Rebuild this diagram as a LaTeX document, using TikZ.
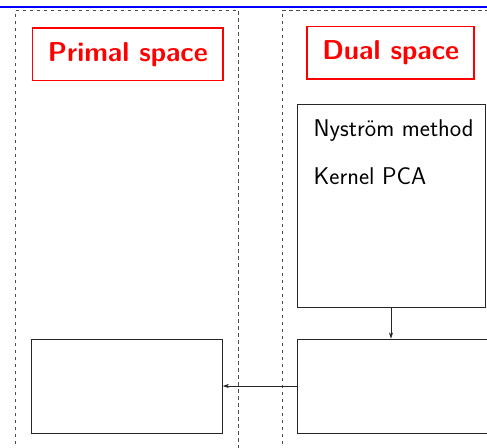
\documentclass[tikz,border=0pt]{standalone}
\usetikzlibrary{arrows.meta}
\begin{document}
\begin{tikzpicture}[x=1pt,y=-1pt,
  frame/.style={draw=black!70,dash pattern=on 3.5pt off 3.5pt,line width=0.9pt},
  title/.style={draw=red,line width=1.4pt,text=red,inner sep=0pt,
    font=\sffamily\bfseries\fontsize{27.3}{31}\selectfont},
  box/.style={draw=black!85,line width=0.9pt,inner sep=0pt},
  item/.style={anchor=base west,inner sep=0pt,font=\sffamily\fontsize{24.2}{29}\selectfont},
  conn/.style={draw=black!85,line width=0.9pt,-{Stealth[length=6pt,width=4pt,inset=1.5pt]}}]
\useasboundingbox (0,0) rectangle (487,447);
\clip (0,0) rectangle (487,447);
% top rule
\draw[blue,line width=1.8pt] (0,7.3) -- (487,7.3);
% the two column frames
\draw[frame] (15.7,500) -- (15.7,10) -- (238.3,10) -- (238.3,500);
\draw[frame] (282,500) -- (282,10) -- (500,10);
% column titles
\node[title,minimum width=190.3pt,minimum height=52.7pt] (primal) at (127.85,54.35) {Primal space};
\node[title,minimum width=167pt,minimum height=52.3pt] (dual) at (390.65,52.85) {Dual space};
% dual-space methods
\node[box,minimum width=188pt,minimum height=203.5pt] (methods) at (391,205.75) {};
\node[item] (nys) at (313.5,136.5) {Nyström method};
\node[item] (kpca) at (313.5,184.5) {Kernel PCA};
% lower boxes
\node[box,minimum width=191pt,minimum height=94pt] (pbox) at (126.8,386) {};
\node[box,minimum width=220pt,minimum height=94pt,anchor=west] (dbox) at (297.3,386) {};
% connectors
\draw[conn] (methods.south) -- (methods.south |- dbox.north);
\draw[conn] (dbox.west) -- (pbox.east);
\end{tikzpicture}
\end{document}
